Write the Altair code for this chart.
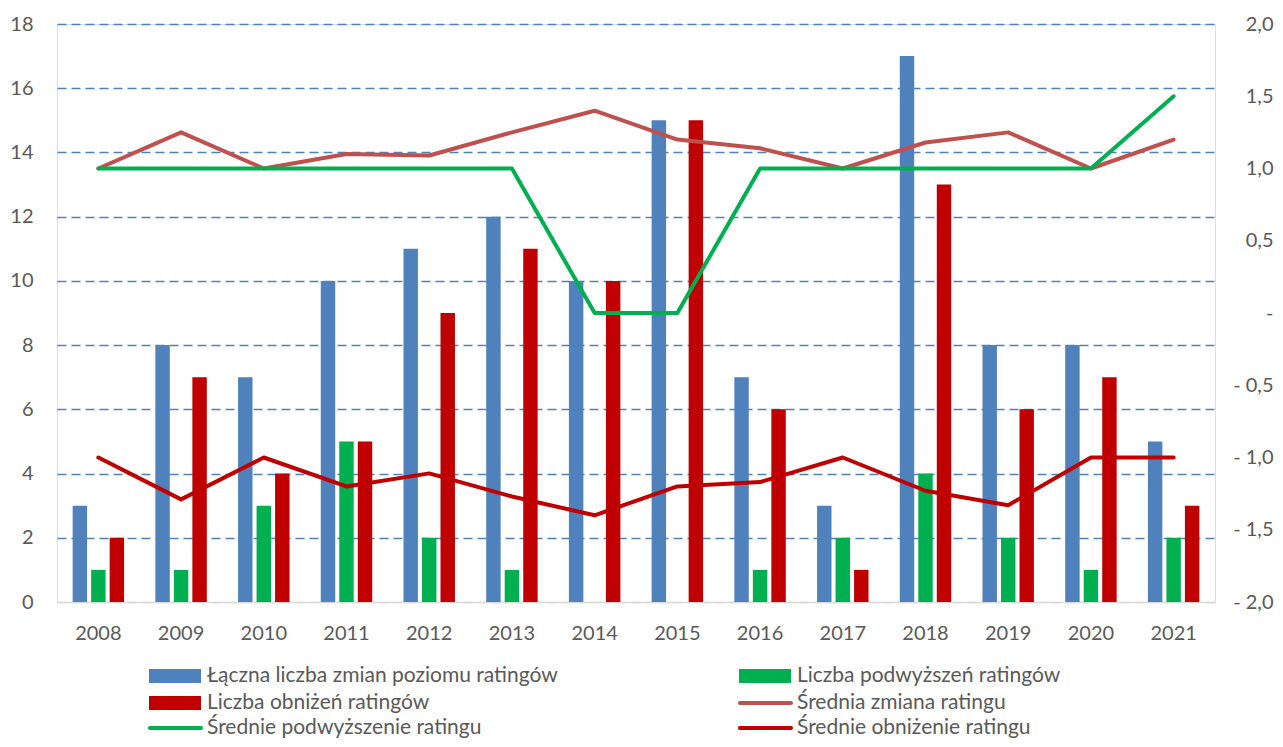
import altair as alt
import pandas as pd

years = ["2008", "2009", "2010", "2011", "2012", "2013", "2014",
         "2015", "2016", "2017", "2018", "2019", "2020", "2021"]
total_changes = [3, 8, 7, 10, 11, 12, 10, 15, 7, 3, 17, 8, 8, 5]
upgrades = [1, 1, 3, 5, 2, 1, 0, 0, 1, 2, 4, 2, 1, 2]
downgrades = [2, 7, 4, 5, 9, 11, 10, 15, 6, 1, 13, 6, 7, 3]
avg_change = [1.0, 1.25, 1.0, 1.1, 1.09, 1.25, 1.4, 1.2, 1.14, 1.0, 1.18, 1.25, 1.0, 1.2]
avg_upgrade = [1.0, 1.0, 1.0, 1.0, 1.0, 1.0, 0.0, 0.0, 1.0, 1.0, 1.0, 1.0, 1.0, 1.5]
avg_downgrade = [-1.0, -1.29, -1.0, -1.2, -1.11, -1.27, -1.4, -1.2, -1.17, -1.0, -1.23, -1.33, -1.0, -1.0]

bar_names = ["Łączna liczba zmian poziomu ratingów", "Liczba podwyższeń ratingów", "Liczba obniżeń ratingów"]
line_names = ["Średnia zmiana ratingu", "Średnie podwyższenie ratingu", "Średnie obniżenie ratingu"]
bar_colors = ["#4F81BD", "#00B050", "#C00000"]
line_colors = ["#C0504D", "#00B050", "#C00000"]

FONT = "Lato"
TXT = "#595959"

bars_df = pd.DataFrame({
    "year": years * 3,
    "series": [bar_names[0]] * 14 + [bar_names[1]] * 14 + [bar_names[2]] * 14,
    "value": total_changes + upgrades + downgrades,
})

x_enc = alt.X("year:N", sort=years,
              scale=alt.Scale(paddingInner=0, paddingOuter=0),
              axis=alt.Axis(title=None, labelAngle=0, ticks=False, labelPadding=21,
                            domain=True, domainColor="#D9D9D9", domainWidth=1.5,
                            labelFontSize=20, labelColor=TXT, labelFont=FONT, grid=False))

bars = alt.Chart(bars_df).mark_bar().encode(
    x=x_enc,
    xOffset=alt.XOffset("series:N", sort=bar_names,
                        scale=alt.Scale(domain=bar_names, paddingInner=0.22, paddingOuter=0.845)),
    y=alt.Y("value:Q", scale=alt.Scale(domain=[0, 18], nice=False),
            axis=alt.Axis(title=None, values=list(range(0, 19, 2)), ticks=False, domain=False,
                          labelPadding=24, labelFontSize=20, labelColor=TXT, labelFont=FONT,
                          grid=True,
                          gridColor=alt.condition("datum.value == 0", alt.value("#D9D9D9"), alt.value("#4F81BD")),
                          gridDash=[9, 5], gridWidth=1.3)),
    color=alt.Color("series:N", scale=alt.Scale(domain=bar_names, range=bar_colors), legend=None),
)

right_axis = alt.Axis(
    title=None, orient="right", values=[-2, -1.5, -1, -0.5, 0, 0.5, 1, 1.5, 2],
    ticks=False, domain=False, grid=False, labelAlign="right", labelPadding=58,
    labelFontSize=20, labelColor=TXT, labelFont=FONT,
    labelExpr="datum.value == 0 ? '-\u00a0\u00a0\u00a0\u00a0\u00a0\u00a0\u00a0' : (datum.value < 0 ? '- ' + replace(format(-datum.value, '.1f'), '.', ',') : replace(format(datum.value, '.1f'), '.', ','))",
)

lines_df = pd.DataFrame({
    "year": years * 3,
    "series": [line_names[0]] * 14 + [line_names[1]] * 14 + [line_names[2]] * 14,
    "val": avg_change + avg_upgrade + avg_downgrade,
})

lines = alt.Chart(lines_df).mark_line(strokeWidth=4, strokeJoin="round", strokeCap="round").encode(
    x=alt.X("year:N", sort=years),
    y=alt.Y("val:Q", scale=alt.Scale(domain=[-2, 2], nice=False), axis=right_axis),
    color=alt.Color("series:N", scale=alt.Scale(domain=line_names, range=line_colors), legend=None),
)

# manual legend
one = pd.DataFrame({"k": [0]})
legend_items = [
    (bar_names[0], "bar", bar_colors[0], 92, 652),
    (bar_names[1], "bar", bar_colors[1], 682, 652),
    (bar_names[2], "bar", bar_colors[2], 92, 679),
    (line_names[0], "line", line_colors[0], 682, 679),
    (line_names[1], "line", line_colors[1], 92, 704),
    (line_names[2], "line", line_colors[2], 682, 704),
]
legend_layers = []
for label, kind, col, lx, ly in legend_items:
    if kind == "bar":
        sym = alt.Chart(one).mark_rect(color=col).encode(
            x=alt.value(lx), x2=alt.value(lx + 52), y=alt.value(ly - 7), y2=alt.value(ly + 7))
    else:
        sym = alt.Chart(one).mark_rule(color=col, strokeWidth=4, strokeCap="round").encode(
            x=alt.value(lx + 1), x2=alt.value(lx + 52), y=alt.value(ly))
    txt = alt.Chart(one).mark_text(text=label, align="left", baseline="middle", font=FONT,
                                   fontSize=21, color=TXT).encode(
        x=alt.value(lx + 58), y=alt.value(ly))
    legend_layers += [sym, txt]

chart = alt.layer(bars, lines, *legend_layers).resolve_scale(
    y="independent", color="independent").properties(
    width=1158, height=578,
    autosize=alt.AutoSizeParams(type="none"),
    padding={"left": 49, "top": 16, "right": 60, "bottom": 136},
).configure_view(stroke=None).configure(background="white")

chart.save("out.html", embed_options={"renderer": "svg", "actions": False})
